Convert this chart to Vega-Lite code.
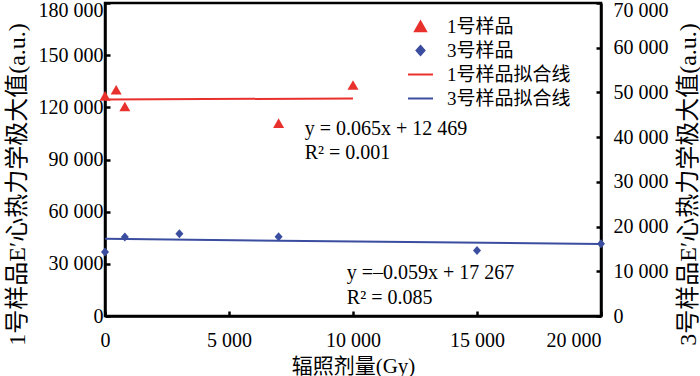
{
  "$schema": "https://vega.github.io/schema/vega-lite/v6.json",
  "width": 496,
  "height": 313,
  "autosize": {"type": "none"},
  "padding": {"left": 105, "top": 3, "right": 99, "bottom": 60},
  "background": "white",
  "config": {
    "view": {"stroke": "black", "strokeWidth": 2.5},
    "font": "Liberation Serif, Noto Sans CJK SC",
    "axis": {
      "grid": false,
      "domainColor": "black",
      "domainWidth": 2.5,
      "tickColor": "black",
      "tickWidth": 2.5,
      "tickSize": -5,
      "labelFont": "Liberation Serif, Noto Sans CJK SC",
      "labelFontSize": 20,
      "labelColor": "black",
      "titleFont": "Liberation Serif, Noto Sans CJK SC",
      "titleFontSize": 24,
      "titleFontWeight": "normal",
      "titleColor": "black"
    },
    "legend": {
      "title": null,
      "orient": "none",
      "legendX": 302,
      "legendY": 10,
      "padding": 0,
      "symbolSize": 625,
      "labelFontSize": 19,
      "labelFont": "Liberation Serif, Noto Sans CJK SC",
      "labelColor": "black",
      "labelOffset": 13,
      "rowPadding": 0,
      "symbolStrokeWidth": 2
    }
  },
  "datasets": {
    "red_pts": [
      {"series": "1号样品", "dose": 0, "value": 126500},
      {"series": "1号样品", "dose": 450, "value": 130000},
      {"series": "1号样品", "dose": 800, "value": 120400},
      {"series": "1号样品", "dose": 7000, "value": 110800},
      {"series": "1号样品", "dose": 10000, "value": 132700}
    ],
    "blue_pts": [
      {"series": "3号样品", "dose": 0, "value": 14300},
      {"series": "3号样品", "dose": 800, "value": 17660},
      {"series": "3号样品", "dose": 3000, "value": 18400},
      {"series": "3号样品", "dose": 7000, "value": 17730},
      {"series": "3号样品", "dose": 15000, "value": 14650},
      {"series": "3号样品", "dose": 20000, "value": 16160}
    ],
    "red_fit": [
      {"series": "1号样品拟合线", "dose": 0, "value": 124469},
      {"series": "1号样品拟合线", "dose": 10000, "value": 125119}
    ],
    "blue_fit": [
      {"series": "3号样品拟合线", "dose": 0, "value": 17267},
      {"series": "3号样品拟合线", "dose": 20000, "value": 16087}
    ],
    "red_txt": [
      {"dose": 8050, "value": 107300, "label": "y = 0.065x + 12 469"},
      {"dose": 8050, "value": 94000, "label": "R² = 0.001"}
    ],
    "blue_txt": [
      {"dose": 9750, "value": 9650, "label": "y =–0.059x + 17 267"},
      {"dose": 9750, "value": 4040, "label": "R² = 0.085"}
    ]
  },
  "layer": [
    {
      "layer": [
        {
          "data": {"name": "red_fit"},
          "mark": {"type": "line", "strokeWidth": 2},
          "encoding": {
            "x": {"field": "dose", "type": "quantitative", "scale": {"domain": [0, 20000], "nice": false, "zero": false},
              "axis": {
                "values": [0, 5000, 10000, 15000, 20000],
                "title": "辐照剂量(Gy)",
                "titleFontSize": 21,
                "labelExpr": "replace(format(datum.value, ','), ',', ' ')",
                "labelAlign": {"condition": {"test": "datum.value == 20000", "value": "right"}, "value": "center"},
                "labelPadding": 19,
                "titleX": 248,
                "titleY": 50,
                "titleBaseline": "middle",
                "titleAlign": "center",
                "titleAnchor": null
              }
            },
            "y": {"field": "value", "type": "quantitative", "scale": {"domain": [0, 180000], "nice": false, "zero": true},
              "axis": {
                "orient": "left",
                "values": [0, 30000, 60000, 90000, 120000, 150000, 180000],
                "title": "1号样品E′心热力学极大值(a.u.)",
                "labelExpr": "replace(format(datum.value, ','), ',', ' ')",
                "labelOffset": {"condition": {"test": "datum.value == 180000", "value": 7}, "value": 0},
                "labelPadding": 7,
                "titleAngle": -90,
                "titleX": -88,
                "titleY": 181,
                "titleBaseline": "middle",
                "titleAlign": "center"
              }
            },
            "color": {"field": "series", "type": "nominal",
              "scale": {"domain": ["1号样品", "3号样品", "1号样品拟合线", "3号样品拟合线"], "range": ["#e8312c", "#3a4d9f", "#e8312c", "#3a4d9f"]}}
          }
        },
        {
          "data": {"name": "red_pts"},
          "mark": {"type": "point", "filled": true, "opacity": 1, "size": 625},
          "encoding": {
            "x": {"field": "dose", "type": "quantitative"},
            "y": {"field": "value", "type": "quantitative"},
            "color": {"field": "series", "type": "nominal"},
            "shape": {"field": "series", "type": "nominal",
              "scale": {"domain": ["1号样品", "3号样品", "1号样品拟合线", "3号样品拟合线"],
                "range": ["M0,-0.4L0.44,0.37L-0.44,0.37Z", "M0,-0.36L0.32,0L0,0.36L-0.32,0Z", "stroke", "stroke"]}}
          }
        },
        {
          "data": {"name": "red_txt"},
          "mark": {"type": "text", "align": "left", "baseline": "middle", "fontSize": 20, "font": "Liberation Serif", "color": "black"},
          "encoding": {
            "x": {"field": "dose", "type": "quantitative"},
            "y": {"field": "value", "type": "quantitative"},
            "text": {"field": "label"}
          }
        }
      ]
    },
    {
      "layer": [
        {
          "data": {"name": "blue_fit"},
          "mark": {"type": "line", "strokeWidth": 2},
          "encoding": {
            "x": {"field": "dose", "type": "quantitative"},
            "y": {"field": "value", "type": "quantitative", "scale": {"domain": [0, 70000], "nice": false, "zero": true},
              "axis": {
                "orient": "right",
                "values": [0, 10000, 20000, 30000, 40000, 50000, 60000, 70000],
                "title": "3号样品E′心热力学极大值(a.u.)",
                "labelExpr": "replace(format(datum.value, ','), ',', ' ')",
                "labelOffset": {"condition": {"test": "datum.value == 70000", "value": 7}, "value": 0},
                "labelPadding": 17,
                "titleAngle": -90,
                "titleX": 87,
                "titleY": 181,
                "titleBaseline": "middle",
                "titleAlign": "center"
              }
            },
            "color": {"field": "series", "type": "nominal"}
          }
        },
        {
          "data": {"name": "blue_pts"},
          "mark": {"type": "point", "filled": true, "opacity": 1, "size": 625},
          "encoding": {
            "x": {"field": "dose", "type": "quantitative"},
            "y": {"field": "value", "type": "quantitative"},
            "color": {"field": "series", "type": "nominal"},
            "shape": {"field": "series", "type": "nominal"}
          }
        },
        {
          "data": {"name": "blue_txt"},
          "mark": {"type": "text", "align": "left", "baseline": "middle", "fontSize": 20, "font": "Liberation Serif", "color": "black"},
          "encoding": {
            "x": {"field": "dose", "type": "quantitative"},
            "y": {"field": "value", "type": "quantitative"},
            "text": {"field": "label"}
          }
        }
      ]
    }
  ],
  "resolve": {"scale": {"y": "independent"}}
}
